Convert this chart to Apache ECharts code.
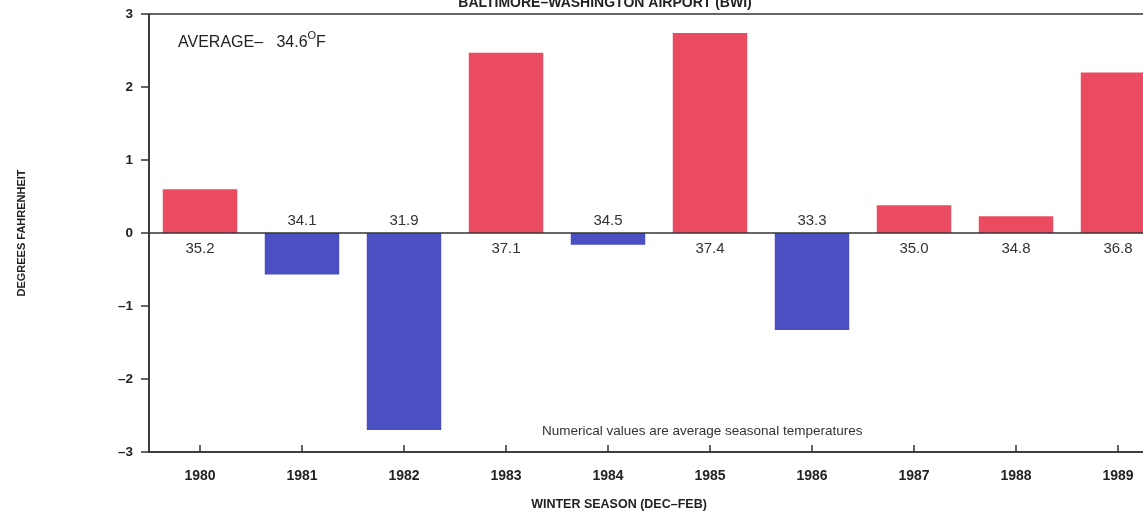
<!DOCTYPE html>
<html><head><meta charset="utf-8">
<script src="https://cdn.jsdelivr.net/npm/echarts@6/dist/echarts.min.js"></script>
<style>html,body{margin:0;padding:0;background:#fff}#c{width:1143px;height:512px}</style>
</head><body><div id="c"></div>
<script>
const seasons = ['1980','1981','1982','1983','1984','1985','1986','1987','1988','1989'];
const departures = [0.6, -0.57, -2.7, 2.47, -0.16, 2.74, -1.33, 0.38, 0.23, 2.2];
const seasonalTemps = ['35.2','34.1','31.9','37.1','34.5','37.4','33.3','35.0','34.8','36.8'];
const yTicks = [-3, -2, -1, 0, 1, 2, 3];
const averageTemp = '34.6';

const RED = '#ea4b60', BLUE = '#4a50c2';
const chart = echarts.init(document.getElementById('c'));
const fontBold = {fontFamily: 'Liberation Sans, Arial, sans-serif', fontWeight: 'bold', color: '#222'};

chart.setOption({
  animation: false,
  title: {
    text: 'BALTIMORE\u2013WASHINGTON AIRPORT (BWI)',
    left: 600, top: -9, textAlign: 'center',
    textStyle: {fontFamily: 'Liberation Sans, Arial, sans-serif', fontWeight: 'bold', fontSize: 14, color: '#222'}
  },
  grid: {left: 149, width: 1020, top: 14, height: 438, outerBoundsMode: 'none', containLabel: false,
         show: true, borderColor: '#333', borderWidth: 1.5},
  xAxis: {
    type: 'category', data: seasons, position: 'bottom',
    axisLine: {show: true, onZero: false, lineStyle: {color: '#333', width: 1.5}},
    axisTick: {show: true, alignWithLabel: true, inside: true, length: 7, lineStyle: {color: '#333', width: 1.5}},
    axisLabel: Object.assign({fontSize: 14, margin: 17}, fontBold),
    name: 'WINTER SEASON (DEC\u2013FEB)', nameLocation: 'middle', nameGap: 46,
    nameTextStyle: Object.assign({fontSize: 12.5, padding: [0, 0, 0, -80]}, fontBold)
  },
  yAxis: {
    type: 'value', min: yTicks[0], max: yTicks[yTicks.length - 1], interval: 1,
    axisLine: {show: true, lineStyle: {color: '#333', width: 1.5}},
    axisTick: {show: true, length: 8, lineStyle: {color: '#333', width: 1.5}},
    splitLine: {show: false},
    axisLabel: Object.assign({fontSize: 13.5, margin: 16, formatter: v => v < 0 ? '\u2013' + Math.abs(v) : String(v)}, fontBold),
    name: 'DEGREES FAHRENHEIT', nameLocation: 'middle', nameGap: 122, nameRotate: 90,
    nameTextStyle: Object.assign({fontSize: 11}, fontBold)
  },
  series: [{
    type: 'bar', barWidth: '73%',
    data: departures.map((v, i) => ({
      value: v,
      itemStyle: {color: v >= 0 ? RED : BLUE},
      label: {show: true, position: v >= 0 ? 'bottom' : 'top', distance: v >= 0 ? 8 : 5, formatter: seasonalTemps[i]}
    })),
    label: {fontFamily: 'Liberation Sans, Arial, sans-serif', fontSize: 15, color: '#333'},
    markLine: {
      silent: true, symbol: 'none', label: {show: false},
      lineStyle: {color: '#333', type: 'solid', width: 1.5},
      data: [{yAxis: 0}]
    }
  }],
  graphic: [
    {type: 'text', left: 178, top: 30, style: {
      text: '{a|AVERAGE\u2013}    {a|' + averageTemp + '}{s|O}{a|F}',
      rich: {
        a: {fontFamily: 'Liberation Sans, Arial, sans-serif', fontSize: 16, fill: '#222', verticalAlign: 'bottom'},
        s: {fontFamily: 'Liberation Sans, Arial, sans-serif', fontSize: 11, fill: '#222', verticalAlign: 'top', padding: [0, 0, 10, 0]}
      }
    }},
    {type: 'text', left: 542, top: 424, style: {
      text: 'Numerical values are average seasonal temperatures',
      fontFamily: 'Liberation Sans, Arial, sans-serif', fontSize: 13.5, fill: '#333'
    }}
  ]
});
</script></body></html>
